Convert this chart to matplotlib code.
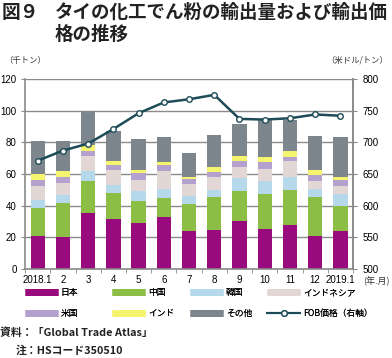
import matplotlib
matplotlib.use("Agg")
import matplotlib.pyplot as plt
from matplotlib.lines import Line2D
import numpy as np

plt.rcParams['font.family'] = ['Liberation Sans Narrow', 'Liberation Sans', 'Noto Sans CJK JP', 'DejaVu Sans']
JP = ['Noto Sans CJK JP', 'DejaVu Sans']

months = ["2018.1", "2", "3", "4", "5", "6", "7", "8", "9", "10", "11", "12", "2019.1"]
japan = [21, 20.4, 35.4, 31.6, 29, 33, 24.2, 24.8, 30.4, 25, 27.7, 20.8, 24.2]
china = [17.5, 21.6, 20, 16.1, 13.8, 12, 16.6, 20.6, 18.8, 22.1, 22.5, 24.4, 15.8]
korea = [5, 5, 6.3, 5.3, 6.3, 5.8, 5.5, 4.2, 8.1, 8.7, 8.1, 5.2, 7.1]
indonesia = [9, 7.3, 9.8, 9.3, 7.2, 11.1, 7.3, 8.4, 7.3, 7.3, 9.6, 5, 5.2]
usa = [4, 4, 3, 3.3, 4.2, 3.5, 3.3, 3.5, 3.3, 4.2, 2.9, 4, 3.7]
india = [3.5, 3.5, 3.7, 2.9, 2.3, 2.1, 1.3, 3.1, 3.5, 3.5, 3.8, 3.1, 2.3]
other = [21, 19, 21.7, 18.7, 19.6, 16, 15, 20, 20, 23.2, 19.4, 21.3, 25.1]
fob = [671, 687, 698, 721, 746, 763, 768, 775, 737, 736, 738, 744, 742]

series = [("日本", japan, "#990a7e"), ("中国", china, "#8cbd45"), ("韓国", korea, "#b5d8ea"),
          ("インドネシア", indonesia, "#e3d7d5"), ("米国", usa, "#b5a1cd"),
          ("インド", india, "#f4f46e"), ("その他", other, "#7d858d")]
line_col = "#1d4b57"
axis_col = "#8a8a8a"

fig = plt.figure(figsize=(3.92, 3.58), dpi=100)
ax = fig.add_axes([0.064, 0.2486, 0.8365, 0.5307])
x = np.arange(len(months))
bottom = np.zeros(len(months))
for name, vals, col in series:
    ax.bar(x, vals, 0.57, bottom=bottom, color=col, zorder=2)
    bottom += np.array(vals)

ax.set_xlim(-0.5, len(months) - 0.5)
ax.set_ylim(0, 120)
ax.set_yticks(range(0, 121, 20))
ax.grid(axis='y', color=axis_col, lw=1, zorder=0)
ax.set_axisbelow(True)
ax.set_xticks(x)
ax.set_xticklabels(months)
ax.set_xticks(np.arange(-0.5, len(months), 1), minor=True)
ax.tick_params(axis='x', which='major', length=0, labelsize=7, pad=4)
ax.tick_params(axis='x', which='minor', length=3, color=axis_col, direction='out')
ax.tick_params(axis='y', length=3, color=axis_col, labelsize=7, pad=3)
ax.spines['top'].set_visible(False)
for s in ['left', 'right', 'bottom']:
    ax.spines[s].set_color(axis_col)
    ax.spines[s].set_linewidth(1.2)

ax2 = ax.twinx()
ax2.plot(x, fob, color=line_col, lw=1.8, marker='o', ms=4, mfc='white', mec=line_col, mew=1, zorder=5)
ax2.set_ylim(500, 800)
ax2.set_yticks(range(500, 801, 50))
ax2.tick_params(axis='y', length=3, color=axis_col, labelsize=7, pad=4)
ax2.spines['top'].set_visible(False)
ax2.spines['right'].set_color(axis_col)
ax2.spines['right'].set_linewidth(1.2)
ax2.spines['left'].set_visible(False)
ax2.spines['bottom'].set_visible(False)

# title and labels
fig.text(0.005, 0.965, "図９", fontsize=13.5, fontweight='bold', family=JP, va='center', color='#222222')
fig.text(0.14, 0.965, "タイの化工でん粉の輸出量および輸出価", fontsize=13.3, fontweight='bold', family=JP, va='center', color='#222222')
fig.text(0.14, 0.905, "格の推移", fontsize=13.3, fontweight='bold', family=JP, va='center', color='#222222')
fig.text(0.01, 0.832, "（千トン）", fontsize=6, family=JP, va='center', color='#333333')
fig.text(0.99, 0.832, "（米ドル/トン）", fontsize=6, family=JP, va='center', ha='right', color='#333333')
fig.text(363 / 392, 0.215, "(年.月)", fontsize=6.5, family=JP, va='center', ha='left', color='#333333')

handles = []
labels = []
for name, vals, col in series:
    handles.append(Line2D([0], [0], color=col, lw=5, solid_capstyle='butt'))
    labels.append(name)
handles.append(Line2D([0], [0], color=line_col, lw=1.5, marker='o', ms=4, mfc='white', mec=line_col))
labels.append("FOB価格（右軸）")

# four legend columns: (row1 item, row2 item)
col_items = [(0, 4), (1, 5), (2, 6), (3, 7)]
col_x = [25, 112, 190, 267]
for (a, b), px in zip(col_items, col_x):
    lg = fig.legend([handles[a], handles[b]], [labels[a], labels[b]], ncol=1,
                    loc='upper left', bbox_to_anchor=(px / 392, 1 - 288 / 358), frameon=False,
                    prop={'family': JP, 'size': 6.3}, handlelength=3.8, handletextpad=0.3,
                    labelspacing=1.35, borderaxespad=0, borderpad=0)
    fig.add_artist(lg)

fig.text(0.0, 0.072, "資料：「Global Trade Atlas」", fontsize=7.8, fontweight='bold', family=JP, va='center', color='#222222')
fig.text(0.04, 0.022, "注：HSコード350510", fontsize=7.8, fontweight='bold', family=JP, va='center', color='#222222')

fig.savefig("out.png", dpi=100)
